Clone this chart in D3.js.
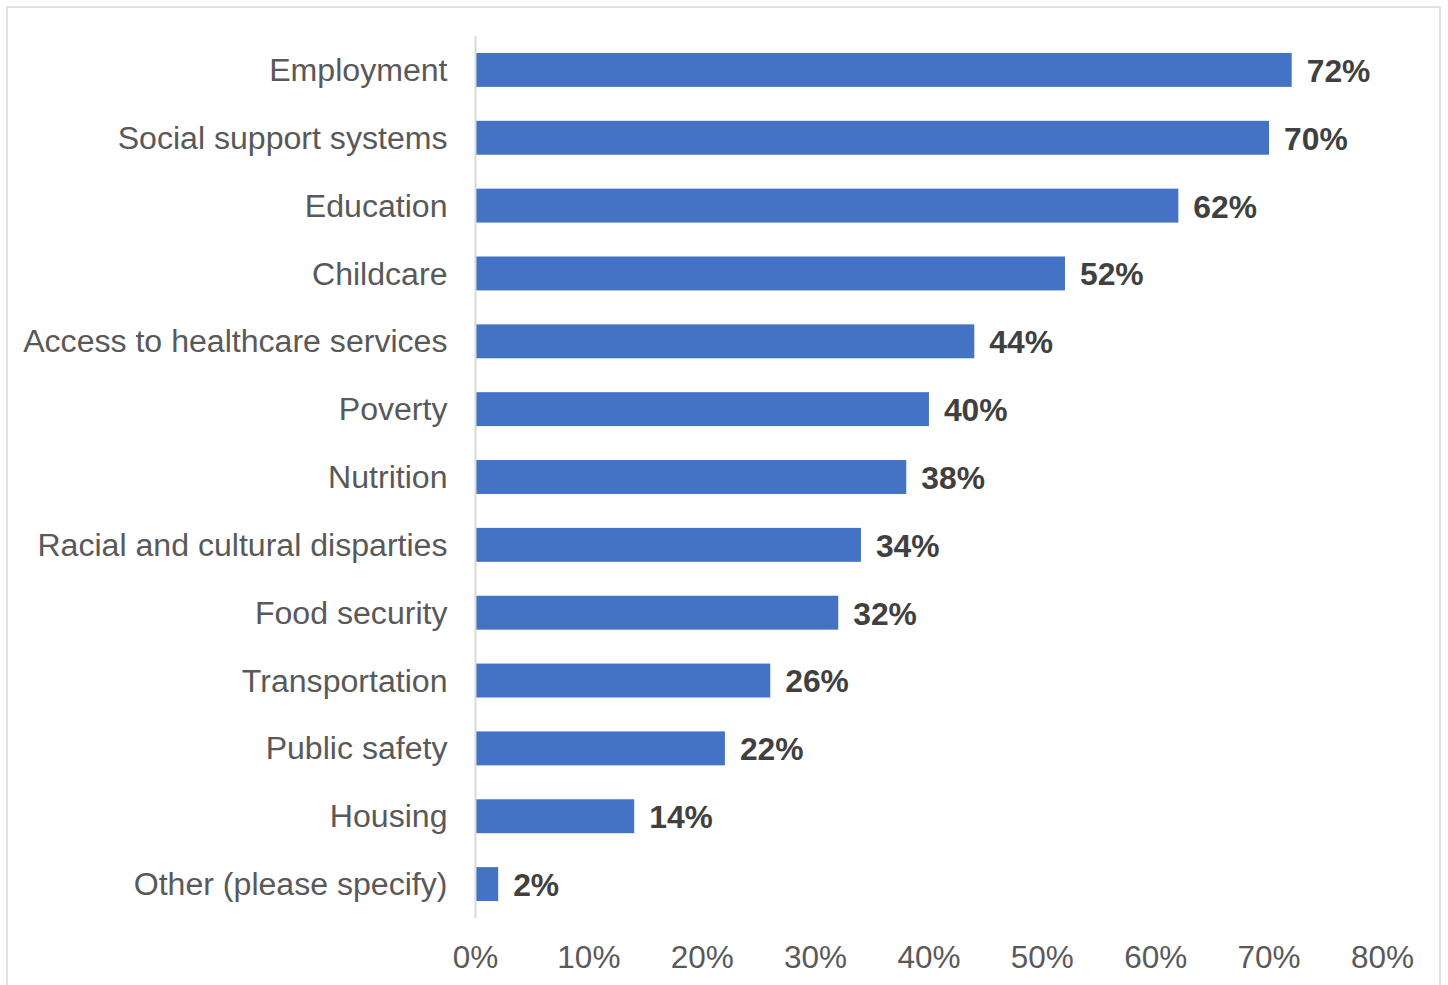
<!DOCTYPE html>
<html>
<head>
<meta charset="utf-8">
<script src="https://cdn.jsdelivr.net/npm/d3@7"></script>
<style>
  html, body { margin: 0; padding: 0; background: #fff; }
  svg { display: block; }
</style>
</head>
<body>
<svg id="chart" width="1448" height="985"></svg>
<script>
// Survey responses: share of respondents selecting each factor
const categories = [
  "Employment",
  "Social support systems",
  "Education",
  "Childcare",
  "Access to healthcare services",
  "Poverty",
  "Nutrition",
  "Racial and cultural disparties",
  "Food security",
  "Transportation",
  "Public safety",
  "Housing",
  "Other (please specify)"
];
const values = [72, 70, 62, 52, 44, 40, 38, 34, 32, 26, 22, 14, 2];
const tickValues = [0, 10, 20, 30, 40, 50, 60, 70, 80];

const svg = d3.select("#chart");
const font = "'Liberation Sans', Arial, Helvetica, sans-serif";

// outer frame
svg.append("rect")
  .attr("x", 7).attr("y", 7)
  .attr("width", 1433).attr("height", 1000)
  .attr("fill", "#fff")
  .attr("stroke", "#d9d9d9")
  .attr("stroke-width", 1.5);

const x = d3.scaleLinear().domain([0, 80]).range([475.5, 1382.4]);
const y = d3.scaleBand().domain(categories).range([36, 918]).paddingInner(0.5).paddingOuter(0.25);

// bars
svg.append("g").selectAll("rect")
  .data(values)
  .join("rect")
  .attr("x", x(0))
  .attr("y", (d, i) => y(categories[i]))
  .attr("width", d => x(d) - x(0))
  .attr("height", y.bandwidth())
  .attr("fill", "#4472c4");

// vertical category axis line
svg.append("line")
  .attr("x1", x(0)).attr("x2", x(0))
  .attr("y1", 36).attr("y2", 918)
  .attr("stroke", "#d9d9d9")
  .attr("stroke-width", 2);

// category labels
const yAxis = d3.axisLeft(y).tickSize(0).tickPadding(28);
const gy = svg.append("g").attr("transform", `translate(${x(0)},0.8)`).call(yAxis);
gy.select(".domain").remove();
gy.selectAll("text")
  .attr("font-family", font)
  .attr("font-size", 32.1)
  .attr("fill", "#595959");

// percentage axis labels
const xAxis = d3.axisBottom(x).tickValues(tickValues).tickSize(0).tickPadding(0).tickFormat(d => d + "%");
const gx = svg.append("g").attr("transform", "translate(-0.5,946)").call(xAxis);
gx.select(".domain").remove();
gx.selectAll("text")
  .attr("font-family", font)
  .attr("font-size", 31.5)
  .attr("fill", "#595959")
  .attr("dy", "0.71em");

// value labels
svg.append("g").selectAll("text")
  .data(values)
  .join("text")
  .attr("x", d => x(d) + 15)
  .attr("y", (d, i) => y(categories[i]) + y.bandwidth() / 2 + 0.8)
  .attr("dy", "0.35em")
  .attr("font-family", font)
  .attr("font-size", 31.8)
  .attr("font-weight", "bold")
  .attr("fill", "#404040")
  .text(d => d + "%");
</script>
</body>
</html>
